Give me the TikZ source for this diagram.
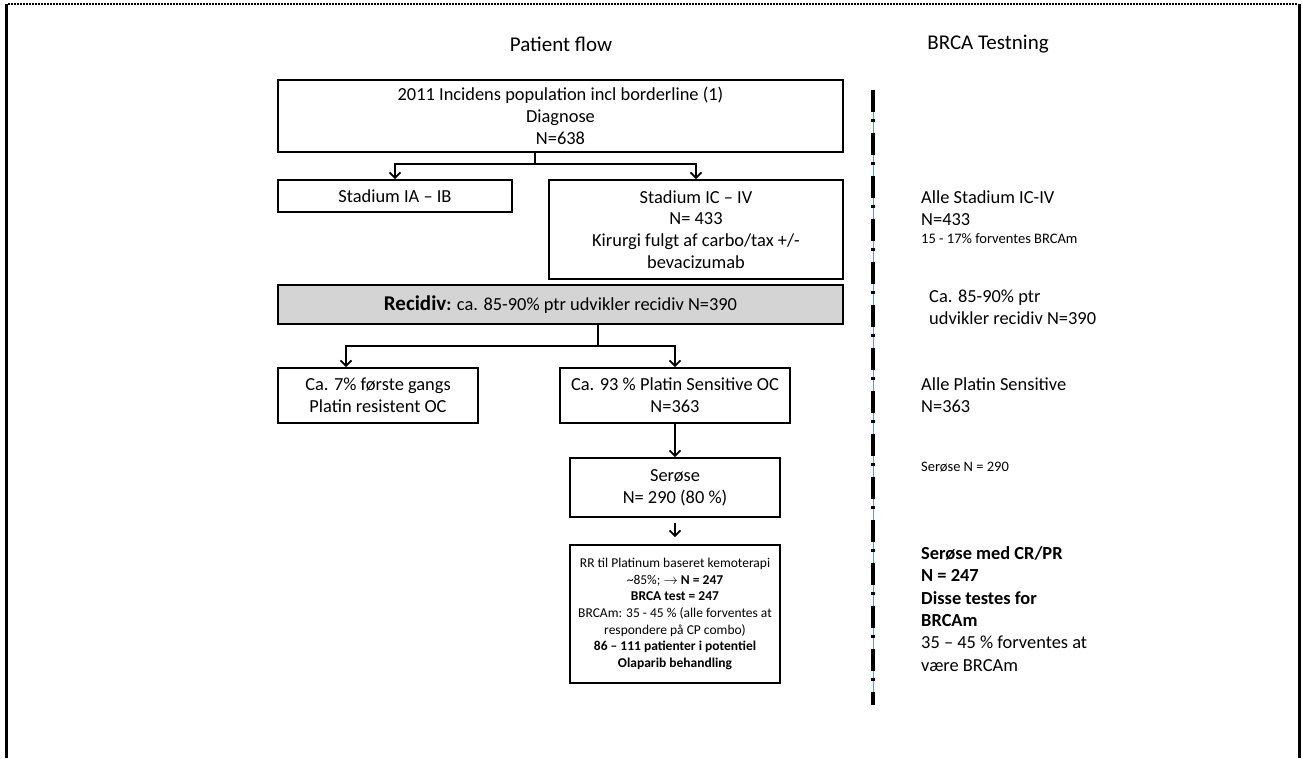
\documentclass[tikz,border=0pt]{standalone}
\usepackage{fontspec}
\setmainfont{Carlito}
\usepackage{tikz}
\usetikzlibrary{arrows.meta,calc}

\definecolor{recgray}{HTML}{D4D4D4}
\definecolor{divblue}{HTML}{5B9BD5}

\newcommand{\flowfont}{\fontsize{18.4}{21.7}\selectfont}
\newcommand{\flowsmall}{\fontsize{13.5}{16.6}\selectfont}
\newcommand{\notesmall}{\fontsize{14.5}{17}\selectfont}
\newcommand{\notewide}{\fontsize{18.4}{22.4}\selectfont}
\newcommand{\headfont}{\fontsize{21}{25}\selectfont}

\begin{document}
\begin{tikzpicture}[
    x=1pt, y=-1pt,
    box/.style={draw, line width=1.6pt, align=center, inner sep=0pt, font=\flowfont},
    arrow/.style={-{Straight Barb[length=5.5pt,width=11pt,line width=1.8pt]}, line width=1.8pt},
    link/.style={line width=1.8pt},
    note/.style={anchor=west, align=left, inner sep=0pt, font=\flowfont},
    heading/.style={font=\headfont, inner sep=0pt}
]
\useasboundingbox (0,0) rectangle (1303,758);

% Frame
\draw[line width=3.5pt] (6.5,4) -- (6.5,758);
\draw[line width=2.5pt] (1299.5,4) -- (1299.5,758);
\draw[line width=2.5pt, dash pattern=on 1.5pt off 1.5pt] (8,4) -- (1298,4);

% Headings
\node[heading] (hflow) at (561,44) {Patient flow};
\node[heading] (hbrca) at (988,44) {BRCA Testning};

% Patient flow
\node[box, minimum width=565pt, minimum height=72pt] (pop) at (560.5,116) {2011 Incidens population incl borderline (1)\\Diagnose\\N=638};
\node[box, minimum width=234pt, minimum height=32pt] (early) at (395,196) {Stadium IA – IB};
\node[box, minimum width=294pt, minimum height=99pt] (late) at (696,229.5) {Stadium IC – IV\\N= 433\\Kirurgi fulgt af carbo/tax +/-\\bevacizumab};
\node[box, fill=recgray, minimum width=565pt, minimum height=39pt] (recid) at (560.5,304.5) {\textbf{{\fontsize{21}{24}\selectfont Recidiv}:} ca. 85-90\% ptr udvikler recidiv N=390};
\node[box, minimum width=200pt, minimum height=55pt] (resist) at (378,395.5) {Ca. 7\% første gangs\\Platin resistent OC};
\node[box, minimum width=230pt, minimum height=55pt] (sens) at (675,395.5) {Ca. 93 \% Platin Sensitive OC\\N=363};
\node[box, minimum width=210pt, minimum height=59pt] (serous) at (675,487.5) {Serøse\\N= 290 (80 \%)};
\node[box, font=\flowsmall, minimum width=210pt, minimum height=138pt] (olap) at (675,614) {RR til Platinum baseret kemoterapi\\
  \textasciitilde85\%; $\rightarrow$ \textbf{N = 247}\\
  \textbf{BRCA test = 247}\\
  BRCAm: 35 - 45 \% (alle forventes at\\
  respondere på CP combo)\\
  \textbf{86 – 111 patienter i potentiel}\\
  \textbf{Olaparib behandling}};

% Connectors
\coordinate (split1) at (535,164);
\draw[link] (pop.south -| split1) -- (split1);
\draw[arrow] (split1) -| (early.north);
\draw[arrow] (split1) -| (late.north);
\coordinate (split2) at (598,346);
\draw[link] (recid.south -| split2) -- (split2);
\draw[arrow] (split2) -| ([xshift=-32pt]resist.north);
\draw[arrow] (split2) -| (sens.north);
\draw[arrow] (sens) -- (serous);
\draw[arrow, shorten <=5pt, shorten >=7pt] (serous) -- (olap);

% Divider
\coordinate (divtop) at (873,90);
\coordinate (divbot) at (873,705);
\draw[divblue, line width=0.8pt] (divtop) -- (divbot);
\draw[line width=3.5pt, dash pattern=on 22pt off 7pt on 3pt off 11pt] (divtop) -- (divbot);

% BRCA testing column
\node[note] (allstage) at (921,208.5) {Alle Stadium IC-IV\\N=433};
\node[note, font=\notesmall] (expect) at (921,239) {15 - 17\% forventes BRCAm};
\node[note] (allrecid) at (929,307.5) {Ca. 85-90\% ptr\\udvikler recidiv N=390};
\node[note] (allsens) at (921,395) {Alle Platin Sensitive\\N=363};
\node[note, font=\notesmall] (serN) at (921,467) {Serøse N = 290};
\node[note, font=\notewide] (tested) at (921,609) {\textbf{Serøse med CR/PR}\\\textbf{N = 247}\\\textbf{Disse testes for}\\\textbf{BRCAm}\\35 – 45 \% forventes at\\være BRCAm};

\end{tikzpicture}
\end{document}
